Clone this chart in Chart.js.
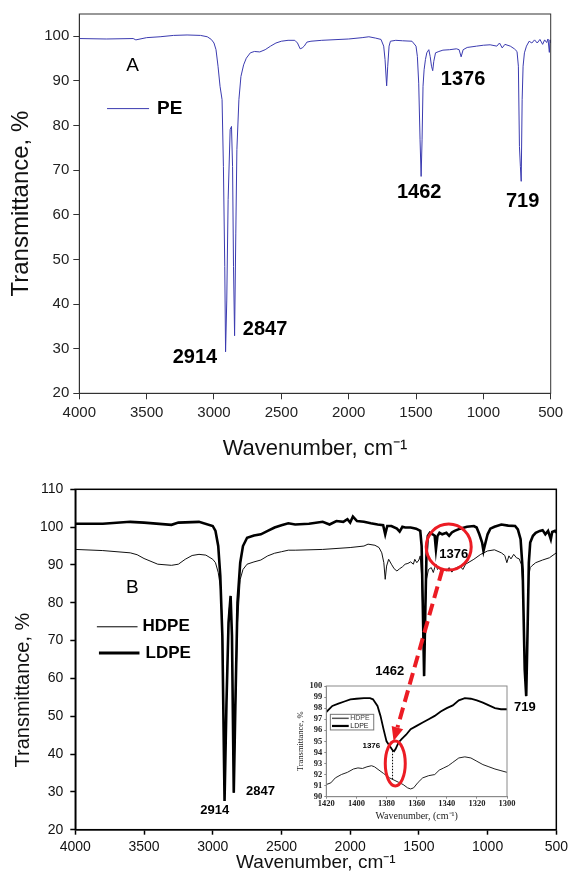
<!DOCTYPE html>
<html>
<head>
<meta charset="utf-8">
<script src="https://cdn.jsdelivr.net/npm/chart.js@4.4.1/dist/chart.umd.min.js"></script>
<style>
  html, body { margin: 0; padding: 0; background: #fff; width: 572px; height: 872px; overflow: hidden; position: relative; }
  canvas { position: absolute; }
</style>
</head>
<body>
<canvas id="chartA" width="572" height="470" style="left:0;top:0"></canvas>
<canvas id="chartB" width="572" height="410" style="left:0;top:470px"></canvas>
<canvas id="inset" width="240" height="150" style="left:282px;top:676px"></canvas>
<canvas id="overlay" width="572" height="872" style="left:0;top:0;pointer-events:none"></canvas>
<script>
// panel A : PE
const peWavenumber = [4000, 3800, 3600, 3580, 3500, 3400, 3300, 3200, 3100, 3050, 3020, 3000, 2985, 2970, 2955, 2940, 2930, 2920, 2914, 2905,
  2895, 2880, 2870, 2862, 2855, 2847, 2838, 2830, 2815, 2800, 2780, 2760, 2730, 2700, 2660, 2620, 2580, 2540, 2500, 2450,
  2400, 2380, 2360, 2345, 2330, 2310, 2280, 2200, 2000, 1900, 1850, 1800, 1760, 1740, 1730, 1718, 1710, 1700, 1690, 1650,
  1600, 1530, 1500, 1490, 1480, 1470, 1462, 1455, 1448, 1440, 1430, 1420, 1405, 1395, 1385, 1376, 1368, 1355, 1330, 1300,
  1250, 1200, 1180, 1165, 1150, 1120, 1050, 1000, 950, 900, 880, 860, 840, 800, 770, 750, 740, 732, 725, 719,
  712, 705, 695, 680, 660, 640, 620, 600, 580, 560, 545, 530, 520, 510, 505, 500];
const peTransmittance = [99.5, 99.4, 99.5, 99.2, 99.7, 99.9, 100.2, 100.3, 100.2, 99.9, 99.3, 98.5, 97.0, 93.3, 88.8, 85.8, 70.8, 48.4, 29.3, 40.9,
  63.4, 79.1, 79.8, 70.8, 48.4, 32.9, 55.9, 74.6, 85.8, 91.0, 93.6, 95.1, 96.3, 96.6, 96.5, 97.0, 97.8, 98.5, 98.9, 99.1,
  99.1, 98.5, 97.2, 97.4, 97.8, 98.7, 98.9, 99.1, 99.4, 99.7, 99.9, 99.6, 99.3, 97.8, 94.8, 88.9, 93.3, 97.8, 98.9, 99.1,
  99.0, 98.9, 97.8, 95.5, 89.5, 76.8, 68.6, 76.8, 88.8, 92.5, 94.8, 96.3, 97.0, 95.5, 93.3, 92.3, 94.4, 96.3, 96.6, 96.9,
  97.0, 97.2, 97.0, 95.4, 97.0, 97.5, 97.8, 98.0, 98.1, 97.8, 98.5, 97.4, 98.2, 97.8, 97.2, 96.6, 93.3, 75.3, 70.8, 67.5,
  85.8, 93.3, 96.3, 97.8, 98.9, 98.5, 99.2, 98.5, 99.3, 98.2, 99.2, 98.6, 99.4, 96.4, 99.2, 98.5];

// panel B : LDPE / HDPE
const ldpeWavenumber = [4000, 3800, 3600, 3500, 3300, 3250, 3100, 3000, 2980, 2960, 2945, 2930, 2914, 2900, 2885, 2870, 2860, 2847, 2835, 2820,
  2800, 2780, 2750, 2700, 2650, 2600, 2550, 2500, 2450, 2400, 2300, 2200, 2150, 2100, 2050, 2020, 2000, 1980, 1950, 1900,
  1850, 1800, 1760, 1745, 1730, 1700, 1660, 1640, 1620, 1600, 1560, 1520, 1490, 1480, 1472, 1462, 1455, 1445, 1435, 1420,
  1400, 1385, 1376, 1365, 1350, 1330, 1300, 1280, 1260, 1240, 1200, 1150, 1100, 1080, 1060, 1040, 1030, 1020, 1000, 980,
  950, 900, 850, 800, 780, 760, 745, 730, 719, 710, 700, 690, 670, 650, 620, 600, 580, 560, 540, 530, 510, 500];
const ldpeTransmittance = [100.9, 100.9, 101.4, 101.2, 100.6, 101.2, 101.4, 100.3, 99.0, 95.0, 87.1, 71.2, 27.6, 53.6, 74.7, 81.8, 71.2, 29.8, 53.6, 80.0,
  90.6, 95.0, 97.2, 97.8, 98.1, 99.0, 99.9, 100.5, 101.0, 100.7, 100.9, 101.4, 100.7, 101.6, 101.4, 102.1, 101.2, 102.8, 101.6, 101.4,
  101.0, 100.7, 100.5, 98.1, 100.3, 100.3, 99.6, 98.8, 100.1, 99.9, 99.9, 99.6, 99.0, 95.0, 80.0, 60.6, 74.7, 92.4, 97.7, 98.5,
  98.1, 97.7, 94.1, 97.6, 98.5, 98.1, 98.5, 97.7, 98.6, 99.0, 99.6, 100.1, 100.3, 99.9, 98.1, 95.9, 93.7, 95.2, 98.1, 99.6,
  100.1, 100.7, 100.4, 100.3, 99.4, 96.8, 88.8, 62.4, 55.3, 71.2, 90.6, 95.9, 97.7, 98.5, 99.0, 99.2, 98.1, 99.0, 96.8, 98.7, 99.0, 98.5];

const hdpeWavenumber = [4000, 3800, 3600, 3550, 3500, 3400, 3300, 3250, 3200, 3150, 3100, 3050, 3000, 2980, 2960, 2945, 2930, 2914, 2900, 2885,
  2870, 2860, 2847, 2835, 2820, 2800, 2780, 2750, 2700, 2650, 2600, 2550, 2500, 2450, 2400, 2200, 2000, 1900, 1870, 1820,
  1790, 1770, 1755, 1745, 1735, 1720, 1700, 1680, 1660, 1640, 1620, 1600, 1580, 1560, 1540, 1530, 1515, 1500, 1490, 1480,
  1472, 1462, 1455, 1445, 1430, 1410, 1395, 1385, 1376, 1365, 1350, 1335, 1320, 1300, 1280, 1260, 1240, 1225, 1200, 1180,
  1160, 1100, 1050, 1000, 950, 900, 875, 860, 845, 830, 810, 790, 770, 755, 745, 730, 719, 710, 700, 690,
  680, 650, 600, 550, 500];
const hdpeTransmittance = [94.1, 93.8, 93.2, 92.7, 91.7, 90.2, 89.9, 90.2, 91.5, 92.5, 92.8, 92.6, 91.5, 90.6, 88.0, 84.4, 74.7, 28.0, 53.6, 76.5,
  81.8, 71.2, 29.8, 51.8, 74.7, 86.2, 88.8, 90.2, 90.8, 91.3, 92.4, 93.1, 93.5, 93.9, 93.9, 94.1, 94.6, 95.0, 95.5, 95.2,
  94.6, 93.2, 90.6, 86.2, 89.7, 91.5, 90.2, 89.0, 88.4, 89.0, 89.5, 90.2, 90.4, 90.8, 90.2, 91.5, 90.6, 91.3, 92.4, 87.1,
  78.3, 63.3, 76.5, 86.2, 88.8, 89.3, 88.0, 89.3, 90.2, 88.8, 89.3, 88.0, 89.0, 88.4, 89.3, 88.1, 89.0, 89.3, 89.7, 88.8,
  90.2, 91.5, 92.8, 93.7, 94.0, 93.2, 92.5, 90.6, 92.4, 91.6, 92.8, 91.9, 91.6, 90.2, 85.3, 66.8, 57.1, 71.2, 87.1, 89.3,
  89.7, 90.6, 91.3, 91.9, 93.2];

// inset : 1420-1300 cm-1
const insetLdpeWavenumber = [1420, 1416, 1412, 1408, 1404, 1400, 1395, 1391, 1389, 1386, 1384, 1382, 1380, 1378, 1376, 1375, 1374, 1372, 1370,
  1367, 1364, 1360, 1356, 1352, 1348, 1344, 1340, 1336, 1332, 1328, 1324, 1320, 1316, 1312, 1308, 1304, 1300];
const insetLdpeTransmittance = [97.65, 98.2, 98.4, 98.6, 98.8, 98.85, 98.9, 98.9, 98.8, 98.2, 97.3, 96.1, 95.0, 94.6, 94.2, 94.1, 94.3, 94.9, 95.2,
  95.6, 96.1, 96.4, 96.7, 97.0, 97.3, 97.7, 98.0, 98.25, 98.7, 98.9, 98.85, 98.7, 98.5, 98.25, 98.0, 97.9, 97.9];
const insetHdpeWavenumber = [1420, 1417, 1414, 1410, 1406, 1402, 1399, 1396, 1393, 1390, 1388, 1385, 1382, 1378, 1375, 1372, 1369, 1366, 1364,
  1362, 1359, 1356, 1352, 1348, 1345, 1342, 1339, 1336, 1332, 1328, 1324, 1320, 1316, 1312, 1308, 1304, 1300];
const insetHdpeTransmittance = [91.1, 91.25, 91.7, 92.0, 92.2, 92.5, 92.6, 92.55, 92.7, 92.8, 92.7, 92.4, 92.1, 91.7, 91.5, 91.3, 91.1, 90.8, 90.7,
  90.8, 91.3, 91.7, 91.9, 92.0, 92.4, 92.6, 92.8, 93.1, 93.5, 93.6, 93.5, 93.2, 92.9, 92.7, 92.5, 92.35, 92.2];

const SANS = '"Liberation Sans", Arial, sans-serif';
const SERIF = '"Liberation Serif", "Times New Roman", serif';
const RED = '#ec1c24';
Chart.defaults.font.family = SANS;

function pts(xs, ys) {
  return xs.map((x, i) => ({ x: x, y: ys[i] }));
}

// frame, legend samples, peak labels and rings, placed with the chart's own scales
const marks = {
  id: 'marks',
  afterDraw(chart, args, o) {
    const { ctx, chartArea: a } = chart;
    const X = v => chart.scales.x.getPixelForValue(v);
    const Y = v => chart.scales.y.getPixelForValue(v);
    ctx.save();
    ctx.strokeStyle = o.frameColor;
    ctx.lineWidth = o.frameWidth;
    ctx.strokeRect(a.left, a.top, a.right - a.left, a.bottom - a.top);
    (o.boxes || []).forEach(b => {
      ctx.fillStyle = '#fff';
      ctx.strokeStyle = b.color;
      ctx.lineWidth = 1;
      ctx.fillRect(X(b.x1), Y(b.y1), X(b.x2) - X(b.x1), Y(b.y2) - Y(b.y1));
      ctx.strokeRect(X(b.x1), Y(b.y1), X(b.x2) - X(b.x1), Y(b.y2) - Y(b.y1));
    });
    (o.lines || []).forEach(l => {
      ctx.beginPath();
      ctx.setLineDash(l.dash || []);
      ctx.strokeStyle = l.color;
      ctx.lineWidth = l.width;
      ctx.moveTo(X(l.x1), Y(l.y1));
      ctx.lineTo(X(l.x2), Y(l.y2));
      ctx.stroke();
    });
    ctx.setLineDash([]);
    (o.rings || []).forEach(r => {
      ctx.beginPath();
      ctx.strokeStyle = r.color;
      ctx.lineWidth = r.width;
      ctx.ellipse(X(r.x), Y(r.y), r.rx, r.ry, 0, 0, Math.PI * 2);
      ctx.stroke();
    });
    (o.texts || []).forEach(t => {
      ctx.font = t.font;
      ctx.fillStyle = t.color || '#000';
      ctx.textAlign = t.align || 'center';
      ctx.textBaseline = 'middle';
      ctx.fillText(t.text, X(t.x), Y(t.y));
    });
    ctx.restore();
  }
};

const chartA = new Chart(document.getElementById('chartA'), {
  type: 'line',
  data: {
    datasets: [{
      label: 'PE',
      data: pts(peWavenumber, peTransmittance),
      borderColor: '#3b3bb0',
      borderWidth: 1,
      pointRadius: 0,
      tension: 0
    }]
  },
  plugins: [marks],
  options: {
    responsive: false,
    animation: false,
    events: [],
    layout: { padding: { left: 0, right: 21.3, top: 14, bottom: 0 } },
    plugins: {
      legend: { display: false },
      tooltip: { enabled: false },
      marks: {
        frameColor: '#333', frameWidth: 1,
        lines: [{ x1: 3794, y1: 83.8, x2: 3482, y2: 83.8, color: '#3b3bb0', width: 1 }],
        texts: [
          { text: 'A', x: 3604, y: 93.4, font: '19px ' + SANS },
          { text: 'PE', x: 3423, y: 83.8, font: 'bold 19px ' + SANS, align: 'left' },
          { text: '2914', x: 3141, y: 28.1, font: 'bold 20px ' + SANS },
          { text: '2847', x: 2621, y: 34.4, font: 'bold 20px ' + SANS },
          { text: '1462', x: 1476, y: 64.9, font: 'bold 20px ' + SANS },
          { text: '1376', x: 1151, y: 90.3, font: 'bold 20px ' + SANS },
          { text: '719', x: 708, y: 63.0, font: 'bold 20px ' + SANS }
        ]
      }
    },
    scales: {
      x: {
        type: 'linear', reverse: true, min: 500, max: 4000,
        ticks: { stepSize: 500, color: '#222', font: { size: 15 }, padding: 5, maxRotation: 0, autoSkip: false, callback: v => String(v) },
        grid: { drawOnChartArea: false, tickLength: 6, color: '#333' },
        border: { color: '#333' },
        title: { display: true, text: 'Wavenumber, cm⁻¹', color: '#111', font: { size: 22 }, padding: { top: 0, bottom: 7.8 } },
        afterFit: s => { s.height = 76.7; }
      },
      y: {
        min: 20, max: 105,
        ticks: { stepSize: 10, includeBounds: false, color: '#222', font: { size: 15 }, padding: 4 },
        grid: { drawOnChartArea: false, tickLength: 6, color: '#333' },
        border: { color: '#333' },
        title: { display: true, text: 'Transmittance, %', color: '#111', font: { size: 24 }, padding: { top: 7.3, bottom: 0 } },
        afterFit: s => { s.width = 79.3; }
      }
    }
  }
});

const chartB = new Chart(document.getElementById('chartB'), {
  type: 'line',
  data: {
    datasets: [{
      label: 'LDPE',
      data: pts(ldpeWavenumber, ldpeTransmittance),
      borderColor: '#000',
      borderWidth: 2.6,
      pointRadius: 0,
      tension: 0
    }, {
      label: 'HDPE',
      data: pts(hdpeWavenumber, hdpeTransmittance),
      borderColor: '#111',
      borderWidth: 1,
      pointRadius: 0,
      tension: 0
    }]
  },
  plugins: [marks],
  options: {
    responsive: false,
    animation: false,
    events: [],
    layout: { padding: { left: 0, right: 12.3, top: 19.3, bottom: 0 } },
    plugins: {
      legend: { display: false },
      tooltip: { enabled: false },
      marks: {
        frameColor: '#000', frameWidth: 1.5,
        lines: [
          { x1: 3843, y1: 73.65, x2: 3547, y2: 73.65, color: '#000', width: 1 },
          { x1: 3828, y1: 66.7, x2: 3533, y2: 66.7, color: '#000', width: 3 }
        ],
        rings: [{ x: 1283, y: 94.74, rx: 22.5, ry: 23, color: RED, width: 3 }],
        texts: [
          { text: 'B', x: 3585, y: 84.0, font: '19px ' + SANS },
          { text: 'HDPE', x: 3511, y: 73.65, font: 'bold 17px ' + SANS, align: 'left' },
          { text: 'LDPE', x: 3489, y: 66.7, font: 'bold 17px ' + SANS, align: 'left' },
          { text: '2914', x: 2986, y: 25.2, font: 'bold 13px ' + SANS },
          { text: '2847', x: 2653, y: 30.0, font: 'bold 13px ' + SANS },
          { text: '1462', x: 1712, y: 61.9, font: 'bold 13px ' + SANS },
          { text: '1376', x: 1247, y: 92.8, font: 'bold 13px ' + SANS },
          { text: '719', x: 729, y: 52.4, font: 'bold 13px ' + SANS }
        ]
      }
    },
    scales: {
      x: {
        type: 'linear', reverse: true, min: 500, max: 4000,
        ticks: { stepSize: 500, color: '#111', font: { size: 14 }, padding: 4, maxRotation: 0, autoSkip: false, callback: v => String(v) },
        grid: { drawOnChartArea: false, tickLength: 5, color: '#000', tickWidth: 1.5 },
        border: { color: '#000', width: 1.5 },
        title: { display: true, text: 'Wavenumber, cm⁻¹', color: '#111', font: { size: 19 }, padding: { top: 0, bottom: 5.6 } },
        afterFit: s => { s.height = 50.3; }
      },
      y: {
        min: 20, max: 110,
        ticks: { stepSize: 10, color: '#111', font: { size: 14 }, padding: 7 },
        grid: { drawOnChartArea: false, tickLength: 5, color: '#000', tickWidth: 1.5 },
        border: { color: '#000', width: 1.5 },
        // trailing spaces push the centred title down, as in the original
        title: { display: true, text: 'Transmittance, %           ', color: '#111', font: { size: 20 }, padding: { top: 11, bottom: 0 } },
        afterFit: s => { s.width = 75.3; }
      }
    }
  }
});

const chartIn = new Chart(document.getElementById('inset'), {
  type: 'line',
  data: {
    datasets: [{
      label: 'LDPE',
      data: pts(insetLdpeWavenumber, insetLdpeTransmittance),
      borderColor: '#000',
      borderWidth: 1.8,
      pointRadius: 0,
      tension: 0
    }, {
      label: 'HDPE',
      data: pts(insetHdpeWavenumber, insetHdpeTransmittance),
      borderColor: '#222',
      borderWidth: 1,
      pointRadius: 0,
      tension: 0
    }]
  },
  plugins: [marks],
  options: {
    responsive: false,
    animation: false,
    events: [],
    layout: { padding: { left: 0, right: 15, top: 10, bottom: 0 } },
    plugins: {
      legend: { display: false },
      tooltip: { enabled: false },
      marks: {
        frameColor: '#8a8a8a', frameWidth: 1,
        boxes: [{ x1: 1417.3, y1: 97.44, x2: 1388.5, y2: 96.03, color: '#777' }],
        lines: [
          { x1: 1416.2, y1: 97.08, x2: 1405.1, y2: 97.08, color: '#555', width: 1.5 },
          { x1: 1416.2, y1: 96.39, x2: 1405.1, y2: 96.39, color: '#000', width: 2.2 },
          { x1: 1376, y1: 94.15, x2: 1376, y2: 91.5, color: '#000', width: 1, dash: [1.5, 1.5] }
        ],
        rings: [{ x: 1374.2, y: 93.0, rx: 10, ry: 22.5, color: RED, width: 3 }],
        texts: [
          { text: 'HDPE', x: 1404.1, y: 97.08, font: '7px ' + SANS, color: '#444', align: 'left' },
          { text: 'LDPE', x: 1404.1, y: 96.39, font: '7px ' + SANS, color: '#222', align: 'left' },
          { text: '1376', x: 1390.1, y: 94.6, font: 'bold 8px ' + SANS }
        ]
      }
    },
    scales: {
      x: {
        type: 'linear', reverse: true, min: 1300, max: 1420,
        ticks: { stepSize: 20, color: '#222', font: { size: 8.5, weight: 'bold', family: SERIF }, padding: 0, maxRotation: 0, autoSkip: false, callback: v => String(v) },
        grid: { drawOnChartArea: false, tickLength: 2, color: '#8a8a8a' },
        border: { color: '#8a8a8a' },
        title: { display: true, text: 'Wavenumber, (cm⁻¹)', color: '#222', font: { size: 10, family: SERIF }, padding: { top: 0, bottom: 4 } },
        afterFit: s => { s.height = 29.3; }
      },
      y: {
        min: 90, max: 100,
        ticks: { stepSize: 1, autoSkip: false, color: '#222', font: { size: 8.5, weight: 'bold', family: SERIF }, padding: 2, callback: v => String(v) },
        grid: { drawOnChartArea: false, tickLength: 2, color: '#8a8a8a' },
        border: { color: '#8a8a8a' },
        title: { display: true, text: 'Transmittance, %', color: '#222', font: { size: 8.5, family: SERIF }, padding: { top: 13.2, bottom: 0 } },
        afterFit: s => { s.width = 44.3; }
      }
    }
  }
});

// red dashed arrow from the ring in panel B down to the 1376 dip in the inset
const zoomFrom = { x: 1283, y: 94.74 };
const zoomTo = { x: 1375.3, y: 95.03 };
(function drawArrow() {
  const cb = document.getElementById('chartB');
  const ci = document.getElementById('inset');
  const ctx = document.getElementById('overlay').getContext('2d');
  const sx = chartB.scales.x.getPixelForValue(zoomFrom.x) + cb.offsetLeft;
  const sy = chartB.scales.y.getPixelForValue(zoomFrom.y) + cb.offsetTop;
  const tx = chartIn.scales.x.getPixelForValue(zoomTo.x) + ci.offsetLeft;
  const ty = chartIn.scales.y.getPixelForValue(zoomTo.y) + ci.offsetTop;
  const ang = Math.atan2(ty - sy, tx - sx);
  const c = Math.cos(ang), s = Math.sin(ang);
  const x0 = sx + 23 * c, y0 = sy + 23 * s;
  const hx = tx - 14 * c, hy = ty - 14 * s;
  ctx.strokeStyle = RED;
  ctx.fillStyle = RED;
  ctx.lineWidth = 4;
  ctx.setLineDash([12, 6]);
  ctx.beginPath();
  ctx.moveTo(x0, y0);
  ctx.lineTo(hx, hy);
  ctx.stroke();
  ctx.setLineDash([]);
  ctx.beginPath();
  ctx.moveTo(tx, ty);
  ctx.lineTo(hx + 6 * s, hy - 6 * c);
  ctx.lineTo(hx - 6 * s, hy + 6 * c);
  ctx.closePath();
  ctx.fill();
})();
</script>
</body>
</html>
